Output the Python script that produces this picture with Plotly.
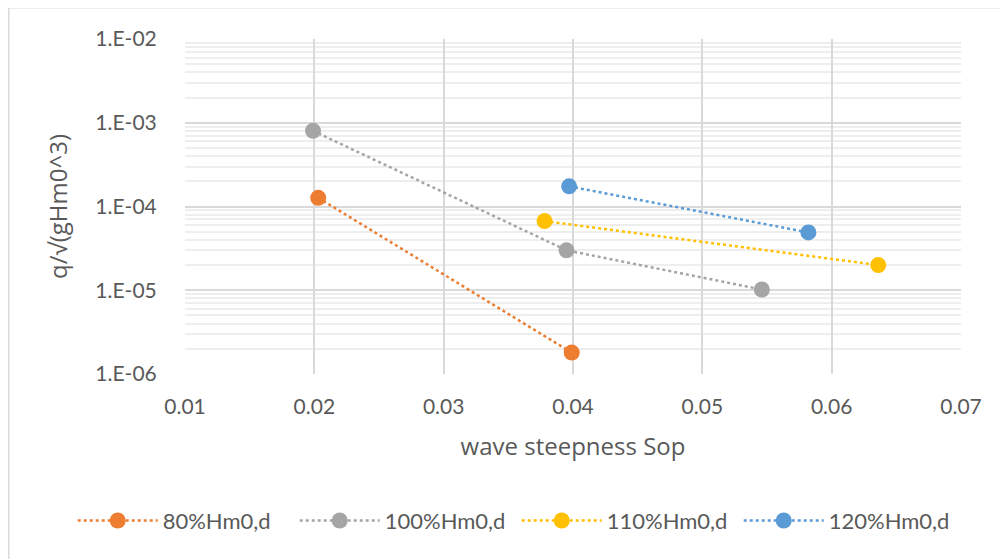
import plotly.graph_objects as go

# ---- data ----
series_names = ["80%Hm0,d", "100%Hm0,d", "110%Hm0,d", "120%Hm0,d"]
series_colors = ["#ED7D31", "#A5A5A5", "#FFC000", "#5B9BD5"]

sop_80 = [0.0203, 0.0399]
q_80 = [1.27e-4, 1.8e-6]

sop_100 = [0.0199, 0.0395, 0.0546]
q_100 = [8.0e-4, 3.0e-5, 1.02e-5]

sop_110 = [0.0378, 0.0636]
q_110 = [6.7e-5, 2.0e-5]

sop_120 = [0.0397, 0.0582]
q_120 = [1.74e-4, 4.9e-5]

x_tickvals = [0.01, 0.02, 0.03, 0.04, 0.05, 0.06, 0.07]
x_ticktext = ["0.01", "0.02", "0.03", "0.04", "0.05", "0.06", "0.07"]
y_tickvals = [1e-6, 1e-5, 1e-4, 1e-3, 1e-2]
y_ticktext = ["1.E-06", "1.E-05", "1.E-04", "1.E-03", "1.E-02"]

x_title = "wave steepness Sop"
y_title = "q/√(gHm0^3)"

xs = [sop_80, sop_100, sop_110, sop_120]
ys = [q_80, q_100, q_110, q_120]

fig = go.Figure()
for name, color, x, y in zip(series_names, series_colors, xs, ys):
    fig.add_trace(go.Scatter(
        x=x, y=y, name=name, mode="lines+markers",
        line=dict(color=color, width=2.5, dash="dot"),
        marker=dict(color=color, size=16),
    ))

tick_font = dict(family="Lato, Carlito, sans-serif", size=21, color="#595959")
title_font = dict(family="Open Sans, sans-serif", size=24, color="#595959")

fig.update_layout(
    width=1008, height=559,
    margin=dict(l=177, r=55, t=31, b=193),
    paper_bgcolor="white", plot_bgcolor="white",
    showlegend=True,
    legend=dict(orientation="h", x=-0.1447, xanchor="left", y=-0.438, yanchor="middle",
                font=dict(family="Lato, Carlito, sans-serif", size=22, color="#595959"),
                itemwidth=80, entrywidth=127, entrywidthmode="pixels", tracegroupgap=0),
    xaxis=dict(
        range=[0.01, 0.07], tickmode="array", tickvals=x_tickvals, ticktext=x_ticktext,
        showgrid=True, gridcolor="#D9D9D9", gridwidth=1.5, zeroline=False,
        showline=False, ticks="outside", ticklen=14, tickcolor="rgba(0,0,0,0)",
        tickfont=tick_font, automargin=False,
        title=dict(text=x_title, font=title_font, standoff=20),
    ),
    yaxis=dict(
        type="log", range=[-6, -2], tickmode="array", tickvals=y_tickvals, ticktext=y_ticktext,
        showgrid=True, gridcolor="#D9D9D9", gridwidth=1.5, zeroline=False,
        showline=False, ticks="outside", ticklen=23, tickcolor="rgba(0,0,0,0)",
        tickfont=tick_font, automargin=False,
        minor=dict(dtick="D1", showgrid=True, gridcolor="#EEEEEE", gridwidth=1.5, ticks=""),
        title=dict(text=y_title, font=title_font, standoff=20),
    ),
)

# outer chart border (Excel chart area)
fig.add_shape(type="rect", xref="paper", yref="paper",
              x0=-0.2272, x1=1.2, y0=-1.0, y1=1.0934,
              line=dict(color="#D9D9D9", width=1.5), fillcolor="rgba(0,0,0,0)", layer="below")

fig.write_html("out.html")
